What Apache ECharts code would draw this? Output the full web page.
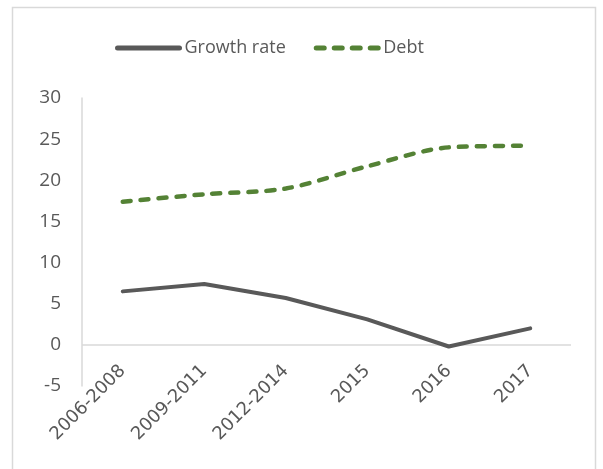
<!DOCTYPE html>
<html>
<head>
<meta charset="utf-8">
<script src="https://cdn.jsdelivr.net/npm/echarts@6/dist/echarts.min.js"></script>
<style>
  html, body { margin: 0; padding: 0; background: #fff; }
  #chart { width: 603px; height: 469px; }
</style>
</head>
<body>
<div id="chart"></div>
<script>
const categories = ['2006-2008', '2009-2011', '2012-2014', '2015', '2016', '2017']
const growthRate = [6.5, 7.4, 5.7, 3.1, -0.2, 2.0]
const debt = [17.4, 18.3, 19.0, 21.7, 24.0, 24.2]

const font = '"Open Sans", sans-serif'
const chart = echarts.init(document.getElementById('chart'))

chart.setOption({
  animation: false,
  textStyle: { fontFamily: font },
  graphic: [{
    type: 'rect',
    shape: { x: 12.5, y: 7.5, width: 583, height: 480 },
    style: { fill: 'none', stroke: '#d9d9d9', lineWidth: 1.5 },
    silent: true
  }],
  legend: {
    top: 34,
    left: 110,
    itemWidth: 62,
    itemHeight: 12,
    itemGap: 28,
    itemStyle: { opacity: 0 },
    lineStyle: { width: 5 },
    textStyle: { fontSize: 18, color: '#595959', fontFamily: font },
    data: ['Growth rate', 'Debt']
  },
  grid: { left: 82, right: 32, top: 98, bottom: 83, containLabel: false },
  xAxis: {
    type: 'category',
    data: categories,
    boundaryGap: true,
    axisLine: { show: false, onZero: false },
    axisTick: { show: false },
    axisLabel: {
      rotate: 45,
      fontSize: 18,
      color: '#595959',
      fontFamily: '"DejaVu Sans", sans-serif',
      margin: -18,
      interval: 0
    }
  },
  yAxis: {
    type: 'value',
    min: -5,
    max: 30,
    interval: 5,
    axisLine: { show: true, lineStyle: { color: '#d9d9d9', width: 1.5 } },
    axisTick: { show: false },
    splitLine: { show: false },
    axisLabel: { fontSize: 19, color: '#595959', fontFamily: font, margin: 21 }
  },
  series: [
    {
      name: 'Growth rate',
      type: 'line',
      data: growthRate,
      symbol: 'none',
      lineStyle: { color: '#595959', width: 4, cap: 'round', join: 'round' },
      itemStyle: { color: '#595959' },
      z: 3,
      markLine: {
        silent: true,
        symbol: 'none',
        label: { show: false },
        lineStyle: { color: '#d9d9d9', width: 1.5, type: 'solid' },
        data: [{ yAxis: 0 }],
        z: 1
      }
    },
    {
      name: 'Debt',
      type: 'line',
      data: debt,
      symbol: 'none',
      smooth: 0.3,
      lineStyle: { color: '#548235', width: 4.5, type: [8, 10], cap: 'round' },
      itemStyle: { color: '#548235' },
      z: 3
    }
  ]
})
</script>
</body>
</html>
